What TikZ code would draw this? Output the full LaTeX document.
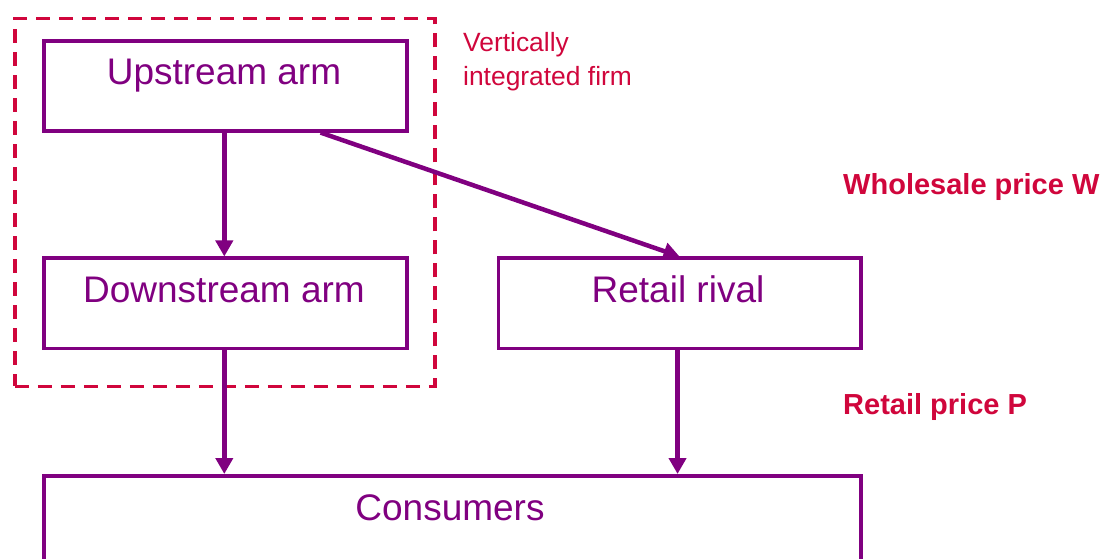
\documentclass[tikz,border=0pt]{standalone}
\usepackage{fontspec}
\setmainfont{Liberation Sans}
\usetikzlibrary{arrows.meta,calc}
\definecolor{firmpurple}{RGB}{128,0,128}
\definecolor{firmred}{RGB}{208,6,60}
\begin{document}
\begin{tikzpicture}[x=1bp,y=-1bp]
\tikzset{
  stage/.style={draw=firmpurple, line width=3.6bp, minimum height=90bp,
    inner sep=0pt, anchor=north west},
  stagetext/.style={text=firmpurple, font=\fontsize{37bp}{44bp}\selectfont,
    anchor=base, inner sep=0pt},
  flow/.style={draw=firmpurple, line width=4.5bp,
    -{Triangle[length=16bp,width=17bp]}},
  firmnote/.style={text=firmred, font=\fontsize{26.4bp}{34bp}\selectfont,
    anchor=base west, inner sep=0pt},
  pricenote/.style={text=firmred, font=\bfseries\fontsize{29bp}{34bp}\selectfont,
    anchor=base west, inner sep=0pt},
  firmbox/.style={draw=firmred, line width=3.2bp, dash pattern=on 14bp off 9bp,
    anchor=north west, inner sep=0pt}
}
\useasboundingbox (0,0) rectangle (1103,559);
\clip (0,0) rectangle (1103,559);

% vertically integrated firm outline
\node[firmbox, minimum width=420bp, minimum height=368bp] (firm) at (13.3,16.7) {};

% market stages
\node[stage, minimum width=363bp] (up) at (42,39) {};
\node[stage, minimum width=363bp] (down) at (42,256.5) {};
\node[stage, minimum width=362.5bp] (rival) at (496.5,256.5) {};
\node[stage, minimum width=817bp, minimum height=120bp] (cons) at (42,474) {};

\node[stagetext] (uplbl) at (224,85) {Upstream arm};
\node[stagetext] (downlbl) at (224,303) {Downstream arm};
\node[stagetext] (rivallbl) at (678,303) {Retail rival};
\node[stagetext] (conslbl) at (450,520) {Consumers};

% annotations
\node[firmnote] (firmlbl1) at (463,52) {Vertically};
\node[firmnote] (firmlbl2) at (463,86) {integrated firm};
\node[pricenote] (wlbl) at (843,195) {Wholesale price W};
\node[pricenote] (plbl) at (843,414) {Retail price P};

% supply flows
\draw[flow] ([xshift=-1bp]up.south) -- ([xshift=-1bp]down.north);
\draw[flow] ($(up.south west)!0.760!(up.south east)$) -- (rival.north);
\draw[flow] ([xshift=-1bp]down.south) -- ([xshift=-1bp]down.south |- cons.north);
\draw[flow] ([xshift=-2bp]rival.south) -- ([xshift=-2bp]rival.south |- cons.north);
\end{tikzpicture}
\end{document}
